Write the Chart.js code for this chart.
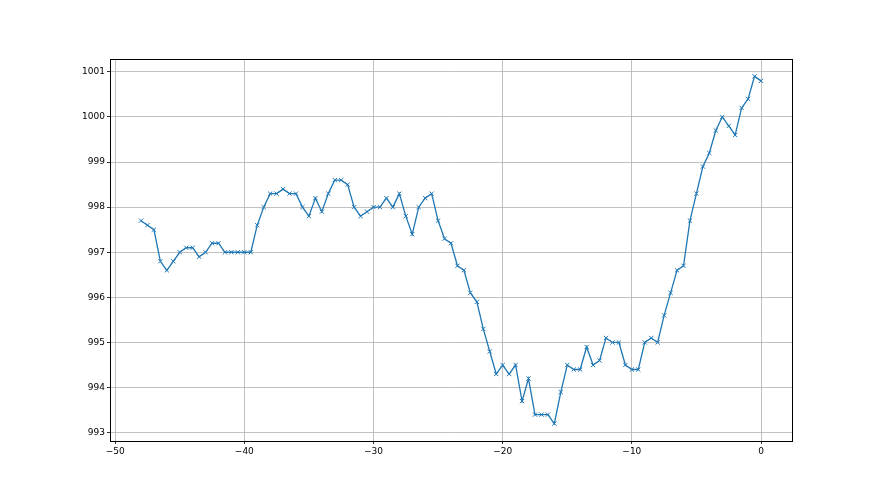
<!DOCTYPE html>
<html>
<head>
<meta charset="utf-8">
<script src="https://cdn.jsdelivr.net/npm/chart.js@4/dist/chart.umd.min.js"></script>
<style>
html,body{margin:0;padding:0;background:#fff;}
#wrap{width:880px;height:495px;}
</style>
</head>
<body>
<div id="wrap"><canvas id="c" width="880" height="495"></canvas></div>
<script>
const xValues = [-48,-47.5,-47,-46.5,-46,-45.5,-45,-44.5,-44,-43.5,-43,-42.5,-42,-41.5,-41,-40.5,-40,-39.5,-39,-38.5,-38,-37.5,-37,-36.5,-36,-35.5,-35,-34.5,-34,-33.5,-33,-32.5,-32,-31.5,-31,-30.5,-30,-29.5,-29,-28.5,-28,-27.5,-27,-26.5,-26,-25.5,-25,-24.5,-24,-23.5,-23,-22.5,-22,-21.5,-21,-20.5,-20,-19.5,-19,-18.5,-18,-17.5,-17,-16.5,-16,-15.5,-15,-14.5,-14,-13.5,-13,-12.5,-12,-11.5,-11,-10.5,-10,-9.5,-9,-8.5,-8,-7.5,-7,-6.5,-6,-5.5,-5,-4.5,-4,-3.5,-3,-2.5,-2,-1.5,-1,-0.5,0];
const yValues = [997.7,997.6,997.5,996.8,996.6,996.8,997.0,997.1,997.1,996.9,997.0,997.2,997.2,997.0,997.0,997.0,997.0,997.0,997.6,998.0,998.3,998.3,998.4,998.3,998.3,998.0,997.8,998.2,997.9,998.3,998.6,998.6,998.5,998.0,997.8,997.9,998.0,998.0,998.2,998.0,998.3,997.8,997.4,998.0,998.2,998.3,997.7,997.3,997.2,996.7,996.6,996.1,995.9,995.3,994.8,994.3,994.5,994.3,994.5,993.7,994.2,993.4,993.4,993.4,993.2,993.9,994.5,994.4,994.4,994.9,994.5,994.6,995.1,995.0,995.0,994.5,994.4,994.4,995.0,995.1,995.0,995.6,996.1,996.6,996.7,997.7,998.3,998.9,999.2,999.7,1000.0,999.8,999.6,1000.2,1000.4,1000.9,1000.8];
const xTicks = [-50,-40,-30,-20,-10,0];
const yTicks = [993,994,995,996,997,998,999,1000,1001];

const points = xValues.map((x,i)=>({x:x,y:yValues[i]}));
const fmt = v => (v<0 ? '\u2212' + Math.abs(v) : String(v));

const frame = {
  id:'frame',
  afterDraw(chart){
    const a = chart.chartArea, ctx = chart.ctx;
    ctx.save();
    ctx.strokeStyle = '#000';
    ctx.lineWidth = 1;
    ctx.strokeRect(Math.round(a.left)+0.5, Math.round(a.top)+0.5, Math.round(a.right-a.left), Math.round(a.bottom-a.top));
    ctx.restore();
  }
};

new Chart(document.getElementById('c'), {
  type:'line',
  data:{datasets:[{
    data:points,
    borderColor:'#1f77b4',
    backgroundColor:'#1f77b4',
    borderWidth:1.3,
    pointStyle:'crossRot',
    pointRadius:3,
    pointBorderWidth:1,
    pointBorderColor:'#1f77b4',
    tension:0,
    fill:false
  }]},
  plugins:[frame],
  options:{
    responsive:false,
    animation:false,
    layout:{padding:{left:0,top:59,right:88,bottom:0}},
    plugins:{legend:{display:false},tooltip:{enabled:false}},
    scales:{
      x:{
        type:'linear',
        min:-50.4, max:2.4,
        afterBuildTicks(s){ s.ticks = xTicks.map(v=>({value:v})); },
        afterFit(s){ s.height = 54; },
        grid:{color:'#b0b0b0',lineWidth:0.8,tickColor:'#000',tickLength:3,drawTicks:true},
        border:{display:true,color:'#000'},
        ticks:{color:'#000',font:{family:'DejaVu Sans',size:9},padding:2,maxRotation:0,callback:fmt}
      },
      y:{
        type:'linear',
        min:992.815, max:1001.285,
        afterBuildTicks(s){ s.ticks = yTicks.map(v=>({value:v})); },
        afterFit(s){ s.width = 110; },
        grid:{color:'#b0b0b0',lineWidth:0.8,tickColor:'#000',tickLength:3,drawTicks:true},
        border:{display:true,color:'#000'},
        ticks:{color:'#000',font:{family:'DejaVu Sans',size:9},padding:2,callback:fmt}
      }
    }
  }
});
</script>
</body>
</html>
